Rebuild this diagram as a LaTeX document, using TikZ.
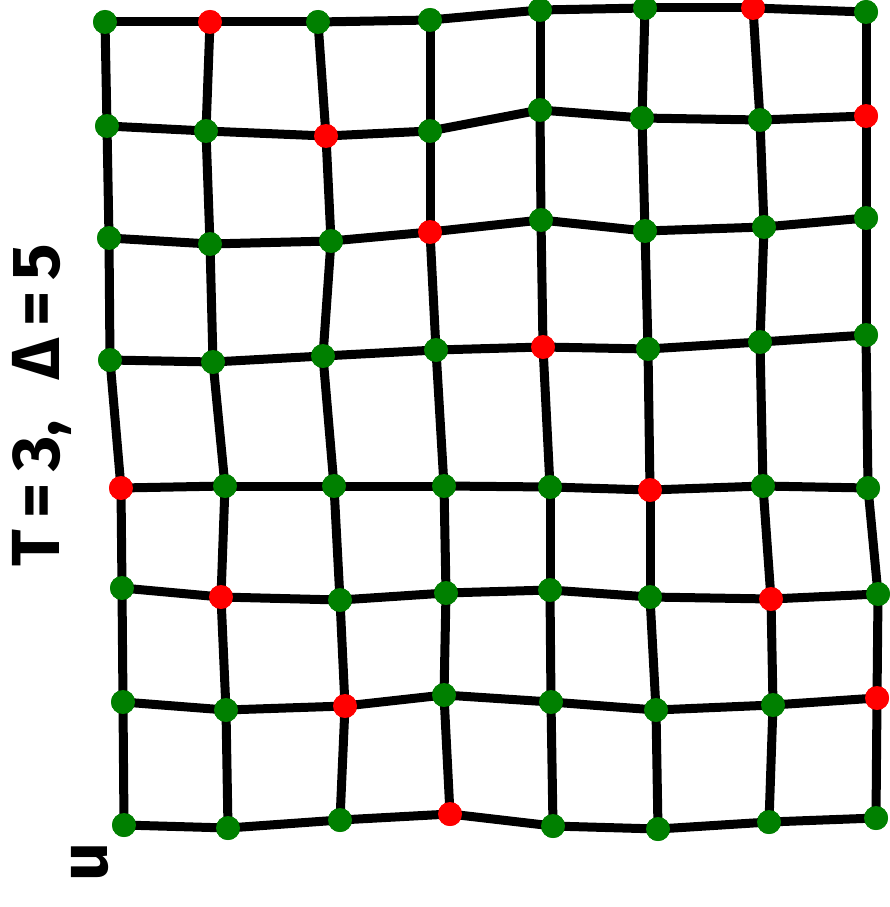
\documentclass[tikz,border=0pt]{standalone}
\usepackage{fontspec}
\setmainfont{Fira Sans}
\definecolor{dotgreen}{RGB}{0,128,0}
\definecolor{dotred}{RGB}{255,0,0}
\begin{document}
\begin{tikzpicture}[x=1pt,y=-1pt,
  gdot/.style={circle,fill=dotgreen,inner sep=0pt,minimum size=24pt},
  rdot/.style={circle,fill=dotred,inner sep=0pt,minimum size=24pt},
  edge/.style={line width=9pt,line cap=round,black},
  lbl/.style={font=\fontsize{68}{68}\selectfont\bfseries,rotate=90,inner sep=0pt}]
\useasboundingbox (0,0) rectangle (890,907);
% row 0
\node[gdot] (n00) at (105,22) {};
\node[rdot] (n01) at (210,22) {};
\node[gdot] (n02) at (318,22) {};
\node[gdot] (n03) at (430,20) {};
\node[gdot] (n04) at (540,10) {};
\node[gdot] (n05) at (645,8) {};
\node[rdot] (n06) at (753,8) {};
\node[gdot] (n07) at (866,12) {};
% row 1
\node[gdot] (n10) at (107,126) {};
\node[gdot] (n11) at (206,131) {};
\node[rdot] (n12) at (326,136) {};
\node[gdot] (n13) at (430,131) {};
\node[gdot] (n14) at (540,110) {};
\node[gdot] (n15) at (642,118) {};
\node[gdot] (n16) at (760,120) {};
\node[rdot] (n17) at (866,116) {};
% row 2
\node[gdot] (n20) at (109,238) {};
\node[gdot] (n21) at (210,244) {};
\node[gdot] (n22) at (331,241) {};
\node[rdot] (n23) at (430,232) {};
\node[gdot] (n24) at (541,220) {};
\node[gdot] (n25) at (645,231) {};
\node[gdot] (n26) at (764,227) {};
\node[gdot] (n27) at (866,218) {};
% row 3
\node[gdot] (n30) at (110,360) {};
\node[gdot] (n31) at (213,362) {};
\node[gdot] (n32) at (323,356) {};
\node[gdot] (n33) at (436,350) {};
\node[rdot] (n34) at (543,347) {};
\node[gdot] (n35) at (648,349) {};
\node[gdot] (n36) at (760,342) {};
\node[gdot] (n37) at (866,335) {};
% row 4
\node[rdot] (n40) at (121,488) {};
\node[gdot] (n41) at (225,486) {};
\node[gdot] (n42) at (334,486) {};
\node[gdot] (n43) at (444,486) {};
\node[gdot] (n44) at (550,487) {};
\node[rdot] (n45) at (650,490) {};
\node[gdot] (n46) at (763,486) {};
\node[gdot] (n47) at (868,488) {};
% row 5
\node[gdot] (n50) at (122,588) {};
\node[rdot] (n51) at (221,597) {};
\node[gdot] (n52) at (340,600) {};
\node[gdot] (n53) at (446,593) {};
\node[gdot] (n54) at (550,590) {};
\node[gdot] (n55) at (650,597) {};
\node[rdot] (n56) at (771,599) {};
\node[gdot] (n57) at (878,594) {};
% row 6
\node[gdot] (n60) at (123,702) {};
\node[gdot] (n61) at (226,710) {};
\node[rdot] (n62) at (345,706) {};
\node[gdot] (n63) at (444,695) {};
\node[gdot] (n64) at (551,702) {};
\node[gdot] (n65) at (656,710) {};
\node[gdot] (n66) at (773,705) {};
\node[rdot] (n67) at (877,698) {};
% row 7
\node[gdot] (n70) at (124,825) {};
\node[gdot] (n71) at (228,828) {};
\node[gdot] (n72) at (340,820) {};
\node[rdot] (n73) at (450,814) {};
\node[gdot] (n74) at (553,826) {};
\node[gdot] (n75) at (658,829) {};
\node[gdot] (n76) at (769,822) {};
\node[gdot] (n77) at (876,818) {};
% edges
\foreach \r in {0,...,7}{
  \foreach \c [evaluate=\c as \d using int(\c+1)] in {0,...,6}{
    \draw[edge] (n\r\c.center) -- (n\r\d.center);
  }
}
\foreach \r [evaluate=\r as \s using int(\r+1)] in {0,...,6}{
  \foreach \c in {0,...,7}{
    \draw[edge] (n\r\c.center) -- (n\s\c.center);
  }
}
% redraw dots on top
\foreach \r in {0,...,7}{
  \foreach \c in {0,...,7}{
    \pgfmathtruncatemacro{\m}{mod(7-\r+\c,5)}
    \ifnum\m=3
      \node[rdot] at (n\r\c.center) {};
    \else
      \node[gdot] at (n\r\c.center) {};
    \fi
  }
}
\node[lbl] (title) at (42,405) {T\,=\,3,\hspace{0.6em}Δ\,=\,5};
\node[lbl] (u) at (90,862) {u};
\end{tikzpicture}
\end{document}
